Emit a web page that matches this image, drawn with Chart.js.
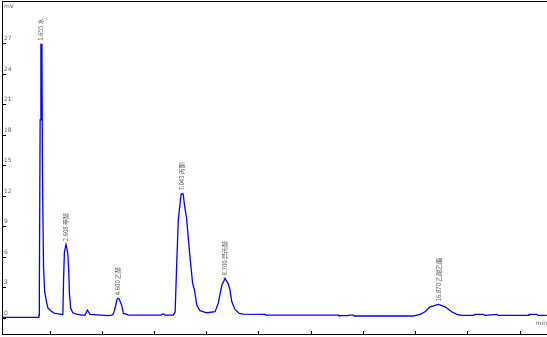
<!DOCTYPE html>
<html>
<head>
<meta charset="utf-8">
<script src="https://cdn.jsdelivr.net/npm/chart.js@4/dist/chart.umd.min.js"></script>
<style>
html,body{margin:0;padding:0;background:#fff;}
canvas{display:block;}
</style>
</head>
<body>
<canvas id="c" width="547" height="337"></canvas>
<script>
// retention time (min)
const times = [0.16,1.57,1.58,1.59,1.62,1.65,1.655,1.69,1.71,1.75,1.79,1.85,1.92,2.04,2.15,2.38,2.46,2.49,2.52,2.55,2.61,2.63,2.68,2.72,2.74,2.79,2.87,3.02,3.21,3.34,3.43,3.53,4.22,4.36,4.42,4.49,4.56,4.60,4.64,4.74,4.81,4.94,5.0,5.51,6.25,6.29,6.36,6.40,6.6,6.72,6.79,6.84,6.87,6.91,6.97,7.02,7.06,7.1,7.14,7.23,7.3,7.37,7.46,7.53,7.62,7.74,8.0,8.32,8.44,8.54,8.58,8.7,8.83,8.89,8.96,9.08,9.25,9.4,10.23,10.25,13.04,13.06,13.41,13.45,13.62,13.65,15.9,16.17,16.36,16.55,16.87,17.13,17.38,17.58,17.77,18.2,18.28,18.58,18.66,19.11,19.15,20.31,20.34,20.64,20.68,21.02];
// detector signal (mV)
const signal = [0.07,0.07,0.3,2.4,19.5,26.9,27.0,25.5,14.0,5.1,2.7,1.77,0.98,0.69,0.49,0.39,0.33,0.35,4.0,6.5,7.25,7.0,6.35,4.4,2.46,0.98,0.52,0.39,0.29,0.3,0.79,0.36,0.23,0.29,0.39,0.98,1.8,1.95,1.9,1.28,0.46,0.36,0.29,0.29,0.29,0.39,0.39,0.29,0.29,0.29,0.6,4.55,6.69,9.64,11.08,12.2,12.25,12.2,11.25,9.8,7.67,5.7,3.4,2.75,1.28,0.72,0.52,0.62,1.44,2.75,3.24,3.9,3.34,2.75,1.6,0.85,0.46,0.39,0.36,0.29,0.29,0.23,0.23,0.29,0.29,0.2,0.2,0.36,0.62,1.11,1.35,1.11,0.62,0.36,0.26,0.26,0.36,0.36,0.26,0.36,0.26,0.26,0.36,0.36,0.26,0.26];
const xTicks = [2,4,6,8,10,12,14,16,18,20];
const yTicks = [0,3,6,9,12,15,18,21,24,27];
const peakTimes = [1.655,2.61,4.60,7.04,8.70,16.87];
const peakValues = [27.0,7.25,1.95,12.25,3.9,1.35];
const peakNames = ['1.655 水','2.608 甲醇','4.600 乙醇','7.043 丙酮','8.700 异丙醇','16.870 乙酸乙酯'];

const points = times.map((t,i)=>({x:t,y:signal[i]}));

const peakLabels = {
  id:'peakLabels',
  afterDatasetsDraw(chart){
    const ctx = chart.ctx, xs = chart.scales.x, ys = chart.scales.y;
    ctx.save();
    ctx.font = '6px "Noto Sans CJK SC", "DejaVu Sans", sans-serif';
    ctx.fillStyle = '#555';
    ctx.textAlign = 'left';
    ctx.textBaseline = 'middle';
    peakNames.forEach((name,i)=>{
      const px = xs.getPixelForValue(peakTimes[i]);
      const py = ys.getPixelForValue(peakValues[i]) - 3;
      ctx.save();
      ctx.translate(px, py);
      ctx.rotate(-Math.PI/2);
      ctx.fillText(name, 0, 0);
      ctx.restore();
    });
    ctx.fillStyle = '#666';
    ctx.font = '6px "DejaVu Sans", sans-serif';
    ctx.fillText('mV', 4, 6);
    ctx.restore();
  }
};

const noPad = s => { s.paddingTop = 0; s.paddingBottom = 0; s.paddingLeft = 0; s.paddingRight = 0; };

new Chart(document.getElementById('c'), {
  type:'line',
  data:{datasets:[{data:points,borderColor:'#0000ff',borderWidth:1.3,pointRadius:0,tension:0,fill:false}]},
  options:{
    responsive:false,
    animation:false,
    layout:{padding:0},
    plugins:{legend:{display:false},tooltip:{enabled:false}},
    scales:{
      x:{
        type:'linear',position:'bottom',min:0.16,max:21.03,
        afterBuildTicks:s=>{s.ticks = xTicks.map(v=>({value:v}));},
        afterFit:s=>{s.height = 3; noPad(s);},
        ticks:{font:{size:6,family:'DejaVu Sans'},color:'#666',padding:-11.6,maxRotation:0,autoSkip:false},
        grid:{drawOnChartArea:false,tickLength:-3,color:'#000',tickWidth:1},
        border:{color:'#000',width:1},
        title:{display:true,text:'min',align:'end',font:{size:6,family:'DejaVu Sans'},color:'#666',padding:{top:0,bottom:10}}
      },
      x2:{
        type:'linear',position:'top',min:0,max:1,
        afterFit:s=>{s.height = 1; noPad(s);},
        ticks:{display:false},
        grid:{display:false,drawTicks:false},
        border:{color:'#000',width:1}
      },
      y:{
        type:'linear',position:'left',min:-1.57,max:31.2,
        afterBuildTicks:s=>{s.ticks = yTicks.map(v=>({value:v}));},
        afterFit:s=>{s.width = 2; noPad(s);},
        ticks:{mirror:true,padding:2,labelOffset:-5,font:{size:6,family:'DejaVu Sans'},color:'#666',autoSkip:false},
        grid:{drawOnChartArea:false,tickLength:-4,color:'#000'},
        border:{color:'#000',width:1}
      }
    }
  },
  plugins:[peakLabels]
});
</script>
</body>
</html>
